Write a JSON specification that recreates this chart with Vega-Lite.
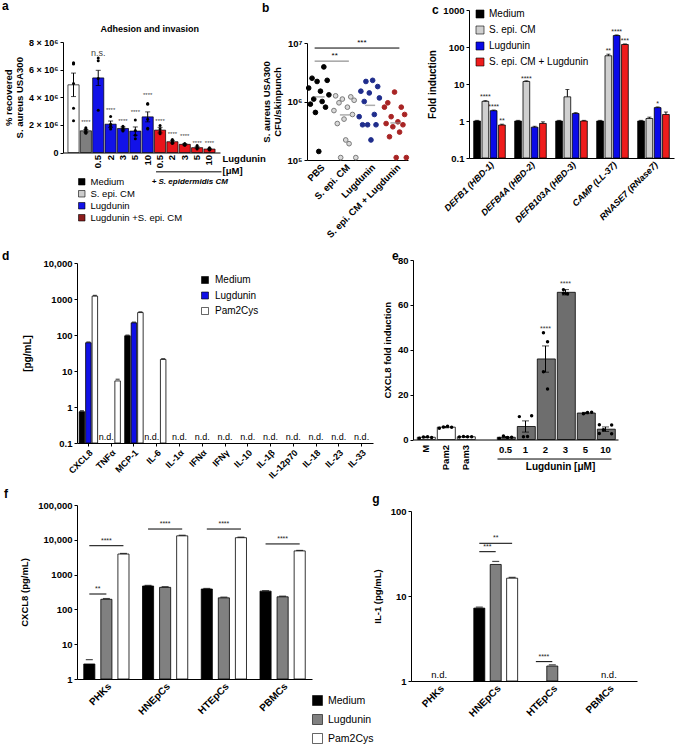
{
  "$schema": "https://vega.github.io/schema/vega-lite/v6.json",
  "width": 676,
  "height": 748,
  "autosize": {"type": "none"},
  "padding": 0,
  "background": "white",
  "config": {
    "view": {"stroke": null},
    "font": "Liberation Sans",
    "axis": {"labelFont": "Liberation Sans", "titleFont": "Liberation Sans", "labelFontWeight": "bold", "titleFontWeight": "bold", "labelColor": "#000", "titleColor": "#000", "labelFontSize": 9, "titleFontSize": 9.5, "domainColor": "#000", "tickColor": "#000", "grid": false, "tickSize": 3, "labelPadding": 2, "titlePadding": 5, "labelOverlap": false, "labelBound": false},
    "legend": {"labelFont": "Liberation Sans", "labelColor": "#000", "labelFontWeight": "normal", "symbolType": "square", "symbolStrokeColor": "#000", "symbolStrokeWidth": 0.6, "padding": 0},
    "text": {"font": "Liberation Sans"}
  },
  "resolve": {
    "scale": {"x": "independent", "y": "independent", "color": "independent", "fill": "independent", "stroke": "independent", "xOffset": "independent", "size": "independent"},
    "axis": {"x": "independent", "y": "independent"},
    "legend": {"color": "independent", "fill": "independent", "stroke": "independent"}
  },
  "datasets": {
    "aBars": [
      {"cat": "Medium", "grp": "Medium", "v": 4.9e6, "lo": 4.05e6, "hi": 5.75e6},
      {"cat": "S. epi. CM", "grp": "S. epi. CM", "v": 1.57e6, "lo": 1.47e6, "hi": 1.67e6},
      {"cat": "0.5", "grp": "Lugdunin", "v": 5.4e6, "lo": 4.85e6, "hi": 5.95e6},
      {"cat": "2", "grp": "Lugdunin", "v": 2.05e6, "lo": 1.82e6, "hi": 2.28e6},
      {"cat": "3", "grp": "Lugdunin", "v": 1.74e6, "lo": 1.64e6, "hi": 1.85e6},
      {"cat": "5", "grp": "Lugdunin", "v": 1.55e6, "lo": 1.25e6, "hi": 1.85e6},
      {"cat": "10", "grp": "Lugdunin", "v": 2.58e6, "lo": 2.22e6, "hi": 2.94e6},
      {"cat": "0.5 ", "grp": "Lugdunin +S. epi. CM", "v": 1.62e6, "lo": 1.42e6, "hi": 1.82e6},
      {"cat": "2 ", "grp": "Lugdunin +S. epi. CM", "v": 0.78e6, "lo": 0.68e6, "hi": 0.88e6},
      {"cat": "3 ", "grp": "Lugdunin +S. epi. CM", "v": 0.59e6, "lo": 0.54e6, "hi": 0.64e6},
      {"cat": "5 ", "grp": "Lugdunin +S. epi. CM", "v": 0.35e6, "lo": 0.28e6, "hi": 0.42e6},
      {"cat": "10 ", "grp": "Lugdunin +S. epi. CM", "v": 0.25e6, "lo": 0.2e6, "hi": 0.3e6}
    ],
    "aDots": [
      {"cat": "Medium", "v": 6.45e6}, {"cat": "Medium", "v": 6.5e6}, {"cat": "Medium", "v": 6.4e6}, {"cat": "Medium", "v": 5.0e6}, {"cat": "Medium", "v": 3.2e6}, {"cat": "Medium", "v": 2.3e6},
      {"cat": "S. epi. CM", "v": 1.8e6}, {"cat": "S. epi. CM", "v": 1.7e6}, {"cat": "S. epi. CM", "v": 1.65e6}, {"cat": "S. epi. CM", "v": 1.55e6}, {"cat": "S. epi. CM", "v": 1.5e6}, {"cat": "S. epi. CM", "v": 1.45e6}, {"cat": "S. epi. CM", "v": 1.4e6},
      {"cat": "0.5", "v": 6.65e6}, {"cat": "0.5", "v": 6.85e6}, {"cat": "0.5", "v": 5.35e6}, {"cat": "0.5", "v": 3.05e6},
      {"cat": "2", "v": 2.6e6}, {"cat": "2", "v": 2.05e6}, {"cat": "2", "v": 1.9e6}, {"cat": "2", "v": 1.7e6},
      {"cat": "3", "v": 1.9e6}, {"cat": "3", "v": 1.8e6}, {"cat": "3", "v": 1.7e6}, {"cat": "3", "v": 1.6e6}, {"cat": "3", "v": 1.55e6},
      {"cat": "5", "v": 2.35e6}, {"cat": "5", "v": 1.6e6}, {"cat": "5", "v": 1.25e6}, {"cat": "5", "v": 1.0e6},
      {"cat": "10", "v": 3.55e6}, {"cat": "10", "v": 3.5e6}, {"cat": "10", "v": 2.4e6}, {"cat": "10", "v": 1.7e6}, {"cat": "10", "v": 1.75e6},
      {"cat": "0.5 ", "v": 1.95e6}, {"cat": "0.5 ", "v": 1.7e6}, {"cat": "0.5 ", "v": 1.5e6}, {"cat": "0.5 ", "v": 1.35e6},
      {"cat": "2 ", "v": 0.95e6}, {"cat": "2 ", "v": 0.85e6}, {"cat": "2 ", "v": 0.75e6}, {"cat": "2 ", "v": 0.65e6}, {"cat": "2 ", "v": 0.7e6},
      {"cat": "3 ", "v": 0.65e6}, {"cat": "3 ", "v": 0.6e6}, {"cat": "3 ", "v": 0.55e6}, {"cat": "3 ", "v": 0.52e6},
      {"cat": "5 ", "v": 0.5e6}, {"cat": "5 ", "v": 0.38e6}, {"cat": "5 ", "v": 0.25e6},
      {"cat": "10 ", "v": 0.35e6}, {"cat": "10 ", "v": 0.25e6}, {"cat": "10 ", "v": 0.2e6}, {"cat": "10 ", "v": 0.18e6}
    ],
    "aSig": [
      {"cat": "S. epi. CM", "sig": "****", "v": 2.2e6},
      {"cat": "0.5", "sig": "n.s.", "v": 7.2e6},
      {"cat": "2", "sig": "****", "v": 3.1e6},
      {"cat": "3", "sig": "****", "v": 2.3e6},
      {"cat": "5", "sig": "****", "v": 2.95e6},
      {"cat": "10", "sig": "****", "v": 4.15e6},
      {"cat": "0.5 ", "sig": "****", "v": 2.27e6},
      {"cat": "2 ", "sig": "****", "v": 1.33e6},
      {"cat": "3 ", "sig": "****", "v": 1.19e6},
      {"cat": "5 ", "sig": "****", "v": 0.7e6},
      {"cat": "10 ", "sig": "****", "v": 0.7e6}
    ],
    "aNote": [{"cat": "3 ", "v": -2.27e6, "label": "+ S. epidermidis CM"}],
    "aLine": [{"cat": "0.5 ", "cat2": "10 ", "v": -1.4e6}],
    "aLbl": [{"cat": "Medium", "v": 10.35e6, "label": "a"}],
    "aTitle": [{"cat": "10", "v": 8.76e6, "label": "Adhesion and invasion"}],
    "bDots": [
      {"grp": "PBS", "rep": 10, "v": 3.9e6}, {"grp": "PBS", "rep": 3, "v": 2.5e6}, {"grp": "PBS", "rep": 12, "v": 2.3e6}, {"grp": "PBS", "rep": 6, "v": 2.2e6}, {"grp": "PBS", "rep": 1, "v": 1.7e6}, {"grp": "PBS", "rep": 8, "v": 1.5e6}, {"grp": "PBS", "rep": 13, "v": 1.3e6}, {"grp": "PBS", "rep": 4, "v": 1.1e6}, {"grp": "PBS", "rep": 9, "v": 1.0e6}, {"grp": "PBS", "rep": 2, "v": 0.9e6}, {"grp": "PBS", "rep": 11, "v": 0.8e6}, {"grp": "PBS", "rep": 5, "v": 0.65e6}, {"grp": "PBS", "rep": 7, "v": 1.4e5},
      {"grp": "S. epi. CM", "rep": 2, "v": 1.25e6}, {"grp": "S. epi. CM", "rep": 11, "v": 1.2e6}, {"grp": "S. epi. CM", "rep": 6, "v": 1.1e6}, {"grp": "S. epi. CM", "rep": 13, "v": 1.05e6}, {"grp": "S. epi. CM", "rep": 4, "v": 0.95e6}, {"grp": "S. epi. CM", "rep": 9, "v": 0.8e6}, {"grp": "S. epi. CM", "rep": 1, "v": 0.7e6}, {"grp": "S. epi. CM", "rep": 12, "v": 0.6e6}, {"grp": "S. epi. CM", "rep": 7, "v": 0.5e6}, {"grp": "S. epi. CM", "rep": 3, "v": 0.42e6}, {"grp": "S. epi. CM", "rep": 8, "v": 0.22e6}, {"grp": "S. epi. CM", "rep": 10, "v": 0.19e6}, {"grp": "S. epi. CM", "rep": 5, "v": 0.11e6}, {"grp": "S. epi. CM", "rep": 14, "v": 0.11e6},
      {"grp": "Lugdunin", "rep": 9, "v": 2.3e6}, {"grp": "Lugdunin", "rep": 5, "v": 2.2e6}, {"grp": "Lugdunin", "rep": 12, "v": 1.8e6}, {"grp": "Lugdunin", "rep": 2, "v": 1.5e6}, {"grp": "Lugdunin", "rep": 7, "v": 1.4e6}, {"grp": "Lugdunin", "rep": 13, "v": 1.15e6}, {"grp": "Lugdunin", "rep": 4, "v": 1.0e6}, {"grp": "Lugdunin", "rep": 10, "v": 0.6e6}, {"grp": "Lugdunin", "rep": 1, "v": 0.55e6}, {"grp": "Lugdunin", "rep": 6, "v": 0.4e6}, {"grp": "Lugdunin", "rep": 11, "v": 0.4e6}, {"grp": "Lugdunin", "rep": 3, "v": 0.4e6}, {"grp": "Lugdunin", "rep": 8, "v": 0.22e6},
      {"grp": "S. epi. CM + Lugdunin", "rep": 7, "v": 1.45e6}, {"grp": "S. epi. CM + Lugdunin", "rep": 3, "v": 0.95e6}, {"grp": "S. epi. CM + Lugdunin", "rep": 11, "v": 0.8e6}, {"grp": "S. epi. CM + Lugdunin", "rep": 1, "v": 0.8e6}, {"grp": "S. epi. CM + Lugdunin", "rep": 13, "v": 0.6e6}, {"grp": "S. epi. CM + Lugdunin", "rep": 5, "v": 0.55e6}, {"grp": "S. epi. CM + Lugdunin", "rep": 9, "v": 0.45e6}, {"grp": "S. epi. CM + Lugdunin", "rep": 2, "v": 0.42e6}, {"grp": "S. epi. CM + Lugdunin", "rep": 12, "v": 0.4e6}, {"grp": "S. epi. CM + Lugdunin", "rep": 6, "v": 0.37e6}, {"grp": "S. epi. CM + Lugdunin", "rep": 10, "v": 0.3e6}, {"grp": "S. epi. CM + Lugdunin", "rep": 4, "v": 0.25e6}, {"grp": "S. epi. CM + Lugdunin", "rep": 8, "v": 0.11e6}, {"grp": "S. epi. CM + Lugdunin", "rep": 14, "v": 0.11e6}
    ],
    "bMean": [
      {"grp": "PBS", "v": 1.2e6}, {"grp": "S. epi. CM", "v": 5.9e5}, {"grp": "Lugdunin", "v": 8.6e5}, {"grp": "S. epi. CM + Lugdunin", "v": 4.3e5}
    ],
    "bSig": [
      {"from": "PBS", "to": "S. epi. CM", "v": 4.9e6, "sig": "**"},
      {"from": "PBS", "to": "S. epi. CM + Lugdunin", "v": 8.2e6, "sig": "***"}
    ],
    "bLbl": [{"grp": "PBS", "v": 3.39e7, "label": "b"}],
    "cBars": [
      {"gene": "DEFB1 (HBD-1)", "treat": "Medium", "v": 1, "hi": 1.04},
      {"gene": "DEFB1 (HBD-1)", "treat": "S. epi. CM", "v": 3.4, "hi": 3.55},
      {"gene": "DEFB1 (HBD-1)", "treat": "Lugdunin", "v": 1.9, "hi": 1.98},
      {"gene": "DEFB1 (HBD-1)", "treat": "S. epi. CM + Lugdunin", "v": 0.78, "hi": 0.82},
      {"gene": "DEFB4A (HBD-2)", "treat": "Medium", "v": 1, "hi": 1.04},
      {"gene": "DEFB4A (HBD-2)", "treat": "S. epi. CM", "v": 11.7, "hi": 12.2},
      {"gene": "DEFB4A (HBD-2)", "treat": "Lugdunin", "v": 0.68, "hi": 0.72},
      {"gene": "DEFB4A (HBD-2)", "treat": "S. epi. CM + Lugdunin", "v": 0.86, "hi": 0.95},
      {"gene": "DEFB103A (HBD-3)", "treat": "Medium", "v": 1, "hi": 1.04},
      {"gene": "DEFB103A (HBD-3)", "treat": "S. epi. CM", "v": 4.5, "hi": 7.1},
      {"gene": "DEFB103A (HBD-3)", "treat": "Lugdunin", "v": 1.6, "hi": 1.68},
      {"gene": "DEFB103A (HBD-3)", "treat": "S. epi. CM + Lugdunin", "v": 1.0, "hi": 1.04},
      {"gene": "CAMP (LL-37)", "treat": "Medium", "v": 1, "hi": 1.04},
      {"gene": "CAMP (LL-37)", "treat": "S. epi. CM", "v": 58, "hi": 64},
      {"gene": "CAMP (LL-37)", "treat": "Lugdunin", "v": 204, "hi": 212},
      {"gene": "CAMP (LL-37)", "treat": "S. epi. CM + Lugdunin", "v": 117, "hi": 121},
      {"gene": "RNASE7 (RNase7)", "treat": "Medium", "v": 1, "hi": 1.04},
      {"gene": "RNASE7 (RNase7)", "treat": "S. epi. CM", "v": 1.17, "hi": 1.27},
      {"gene": "RNASE7 (RNase7)", "treat": "Lugdunin", "v": 2.3, "hi": 2.4},
      {"gene": "RNASE7 (RNase7)", "treat": "S. epi. CM + Lugdunin", "v": 1.5, "hi": 1.75}
    ],
    "cSig": [
      {"gene": "DEFB1 (HBD-1)", "treat": "S. epi. CM", "sig": "****", "v": 4.5},
      {"gene": "DEFB1 (HBD-1)", "treat": "Lugdunin", "sig": "****", "v": 2.45},
      {"gene": "DEFB1 (HBD-1)", "treat": "S. epi. CM + Lugdunin", "sig": "**", "v": 1.0},
      {"gene": "DEFB4A (HBD-2)", "treat": "S. epi. CM", "sig": "****", "v": 13.8},
      {"gene": "CAMP (LL-37)", "treat": "S. epi. CM", "sig": "**", "v": 78},
      {"gene": "CAMP (LL-37)", "treat": "Lugdunin", "sig": "****", "v": 250},
      {"gene": "CAMP (LL-37)", "treat": "S. epi. CM + Lugdunin", "sig": "***", "v": 144},
      {"gene": "RNASE7 (RNase7)", "treat": "Lugdunin", "sig": "*", "v": 2.8}
    ],
    "cLbl": [{"gene": "DEFB1 (HBD-1)", "v": 803, "label": "c"}],
    "dBars": [
      {"cyt": "CXCL8", "treat": "Medium", "v": 0.74, "hi": 0.79},
      {"cyt": "CXCL8", "treat": "Lugdunin", "v": 61, "hi": 64},
      {"cyt": "CXCL8", "treat": "Pam2Cys", "v": 1200, "hi": 1260},
      {"cyt": "TNFα", "treat": "Pam2Cys", "v": 5.3, "hi": 5.9},
      {"cyt": "MCP-1", "treat": "Medium", "v": 95, "hi": 99},
      {"cyt": "MCP-1", "treat": "Lugdunin", "v": 218, "hi": 228},
      {"cyt": "MCP-1", "treat": "Pam2Cys", "v": 420, "hi": 440},
      {"cyt": "IL-6", "treat": "Pam2Cys", "v": 21, "hi": 22}
    ],
    "dND": [
      {"cyt": "TNFα", "v": 0.1, "note": "n.d."}, {"cyt": "IL-6", "v": 0.1, "note": "n.d."},
      {"cyt": "IL-1α", "v": 0.1, "note": "n.d."}, {"cyt": "IFNα", "v": 0.1, "note": "n.d."}, {"cyt": "IFNγ", "v": 0.1, "note": "n.d."}, {"cyt": "IL-10", "v": 0.1, "note": "n.d."}, {"cyt": "IL-1β", "v": 0.1, "note": "n.d."}, {"cyt": "IL-12p70", "v": 0.1, "note": "n.d."}, {"cyt": "IL-18", "v": 0.1, "note": "n.d."}, {"cyt": "IL-23", "v": 0.1, "note": "n.d."}, {"cyt": "IL-33", "v": 0.1, "note": "n.d."}
    ],
    "dLbl": [{"cyt": "CXCL8", "v": 12100, "label": "d"}],
    "eBars": [
      {"cond": "M", "v": 1.0, "lo": 0.8, "hi": 1.2},
      {"cond": "Pam2", "v": 5.5, "lo": 5.2, "hi": 5.8},
      {"cond": "Pam3", "v": 1.2, "lo": 1.1, "hi": 1.3},
      {"cond": "0.5", "v": 1.0, "lo": 0.7, "hi": 1.3},
      {"cond": "1", "v": 5.8, "lo": 3.3, "hi": 8.3},
      {"cond": "2", "v": 35.9, "lo": 30.0, "hi": 41.7},
      {"cond": "3", "v": 65.6, "lo": 64.4, "hi": 66.8},
      {"cond": "5", "v": 11.8, "lo": 11.5, "hi": 12.1},
      {"cond": "10", "v": 4.6, "lo": 3.6, "hi": 5.6}
    ],
    "eDots": [
      {"cond": "M", "rep": 1, "v": 0.6}, {"cond": "M", "rep": 2, "v": 1.1}, {"cond": "M", "rep": 3, "v": 1.2}, {"cond": "M", "rep": 4, "v": 0.9},
      {"cond": "Pam2", "rep": 1, "v": 5.0}, {"cond": "Pam2", "rep": 2, "v": 5.6}, {"cond": "Pam2", "rep": 3, "v": 5.9}, {"cond": "Pam2", "rep": 4, "v": 5.5},
      {"cond": "Pam3", "rep": 1, "v": 1.1}, {"cond": "Pam3", "rep": 2, "v": 1.3}, {"cond": "Pam3", "rep": 3, "v": 1.2}, {"cond": "Pam3", "rep": 4, "v": 1.2},
      {"cond": "0.5", "rep": 1, "v": 0.5}, {"cond": "0.5", "rep": 2, "v": 1.6}, {"cond": "0.5", "rep": 3, "v": 0.9}, {"cond": "0.5", "rep": 4, "v": 1.0},
      {"cond": "1", "rep": 1, "v": 10.2}, {"cond": "1", "rep": 4, "v": 10.6}, {"cond": "1", "rep": 2, "v": 1.2}, {"cond": "1", "rep": 3, "v": 1.3},
      {"cond": "2", "rep": 2, "v": 47.6}, {"cond": "2", "rep": 3, "v": 43.6}, {"cond": "2", "rep": 2, "v": 30.2}, {"cond": "2", "rep": 3, "v": 22.5},
      {"cond": "3", "rep": 2, "v": 66.8}, {"cond": "3", "rep": 3, "v": 65.0}, {"cond": "3", "rep": 2, "v": 65.2},
      {"cond": "5", "rep": 2, "v": 11.5}, {"cond": "5", "rep": 3, "v": 12.0}, {"cond": "5", "rep": 4, "v": 12.1},
      {"cond": "10", "rep": 1, "v": 6.6}, {"cond": "10", "rep": 4, "v": 6.5}, {"cond": "10", "rep": 1, "v": 2.7}, {"cond": "10", "rep": 4, "v": 2.6}, {"cond": "10", "rep": 2, "v": 4.3}
    ],
    "eSig": [{"cond": "2", "v": 49.1, "sig": "****"}, {"cond": "3", "v": 69.2, "sig": "****"}],
    "eNote": [{"cond": "3", "v": -13.6, "label": "Lugdunin [μM]"}],
    "eLine": [{"cond": "0.5", "cond2": "10", "v": -8.7}],
    "eLab": [{"cond": "M", "v": -2.4}, {"cond": "Pam2", "v": -2.4}, {"cond": "Pam3", "v": -2.4}],
    "eLbl": [{"cond": "M", "v": 80, "label": "e"}],
    "fBars": [
      {"cell": "PHKs", "treat": "Medium", "v": 2.7, "hi": 3.6},
      {"cell": "PHKs", "treat": "Lugdunin", "v": 195, "hi": 205},
      {"cell": "PHKs", "treat": "Pam2Cys", "v": 3900, "hi": 4050},
      {"cell": "HNEpCs", "treat": "Medium", "v": 470, "hi": 490},
      {"cell": "HNEpCs", "treat": "Lugdunin", "v": 430, "hi": 450},
      {"cell": "HNEpCs", "treat": "Pam2Cys", "v": 13000, "hi": 13500},
      {"cell": "HTEpCs", "treat": "Medium", "v": 385, "hi": 400},
      {"cell": "HTEpCs", "treat": "Lugdunin", "v": 215, "hi": 225},
      {"cell": "HTEpCs", "treat": "Pam2Cys", "v": 11500, "hi": 11900},
      {"cell": "PBMCs", "treat": "Medium", "v": 335, "hi": 345},
      {"cell": "PBMCs", "treat": "Lugdunin", "v": 230, "hi": 240},
      {"cell": "PBMCs", "treat": "Pam2Cys", "v": 4800, "hi": 4950}
    ],
    "fLines": [
      {"id": "p1", "cell": "PHKs", "treat": "Medium", "v": 6760}, {"id": "p1", "cell": "PHKs", "treat": "Pam2Cys", "v": 6760},
      {"id": "p2", "cell": "PHKs", "treat": "Medium", "v": 277}, {"id": "p2", "cell": "PHKs", "treat": "Lugdunin", "v": 277},
      {"id": "p3", "cell": "HNEpCs", "treat": "Medium", "v": 20400}, {"id": "p3", "cell": "HNEpCs", "treat": "Pam2Cys", "v": 20400},
      {"id": "p4", "cell": "HTEpCs", "treat": "Medium", "v": 20400}, {"id": "p4", "cell": "HTEpCs", "treat": "Pam2Cys", "v": 20400},
      {"id": "p5", "cell": "PBMCs", "treat": "Medium", "v": 7600}, {"id": "p5", "cell": "PBMCs", "treat": "Pam2Cys", "v": 7600}
    ],
    "fSig": [
      {"cell": "PHKs", "treat": "Lugdunin", "v": 6760, "sig": "****"},
      {"cell": "PHKs", "treat": "Medium", "v": 277, "sig": "**"},
      {"cell": "HNEpCs", "treat": "Lugdunin", "v": 20400, "sig": "****"},
      {"cell": "HTEpCs", "treat": "Lugdunin", "v": 20400, "sig": "****"},
      {"cell": "PBMCs", "treat": "Lugdunin", "v": 7600, "sig": "****"}
    ],
    "fLbl": [{"cell": "PHKs", "v": 1.59e5, "label": "f"}],
    "gBars": [
      {"cell": "HNEpCs", "treat": "Medium", "v": 7.2, "hi": 7.4},
      {"cell": "HNEpCs", "treat": "Lugdunin", "v": 23.5, "hi": 25.5},
      {"cell": "HNEpCs", "treat": "Pam2Cys", "v": 16.2, "hi": 16.6},
      {"cell": "HTEpCs", "treat": "Lugdunin", "v": 1.5, "hi": 1.55}
    ],
    "gLines": [
      {"id": "q1", "cell": "HNEpCs", "treat": "Medium", "v": 41.7}, {"id": "q1", "cell": "HNEpCs", "treat": "Pam2Cys", "v": 41.7},
      {"id": "q2", "cell": "HNEpCs", "treat": "Medium", "v": 33.2}, {"id": "q2", "cell": "HNEpCs", "treat": "Lugdunin", "v": 33.2},
      {"id": "q3", "cell": "HTEpCs", "treat": "Medium", "v": 1.69}, {"id": "q3", "cell": "HTEpCs", "treat": "Lugdunin", "v": 1.69}
    ],
    "gSig": [
      {"cell": "HNEpCs", "treat": "Lugdunin", "v": 41.7, "sig": "**"},
      {"cell": "HNEpCs", "treat": "Medium", "v": 33.2, "sig": "***"},
      {"cell": "HTEpCs", "treat": "Medium", "v": 1.69, "sig": "****"}
    ],
    "gND": [{"cell": "PHKs", "v": 1, "note": "n.d."}, {"cell": "PBMCs", "v": 1, "note": "n.d."}],
    "gLbl": [{"cell": "PHKs", "v": 124, "label": "g"}]
  },
  "layer": [
    {
      "layer": [
        {
          "data": {"name": "aBars"},
          "mark": {"type": "bar", "stroke": "#000", "strokeWidth": 0.7},
          "encoding": {
            "x": {"field": "cat", "type": "nominal", "scale": {"domain": ["Medium", "S. epi. CM", "0.5", "2", "3", "5", "10", "0.5 ", "2 ", "3 ", "5 ", "10 "], "range": [63, 220], "paddingInner": 0.1, "paddingOuter": 0.4},
              "axis": {"orient": "bottom", "offset": -595.5, "labelAngle": -90, "ticks": false, "labelFontSize": 9.5, "labelExpr": "datum.value == 'Medium' || datum.value == 'S. epi. CM' ? '' : trim(datum.value)", "title": ["Lugdunin", "[μM]"], "titleX": 222, "titleY": 1, "titleAlign": "left", "titleBaseline": "top", "titleAngle": 0, "titleFontSize": 9.5, "titleLineHeight": 12}},
            "y": {"field": "v", "type": "quantitative", "scale": {"domain": [0, 8e6], "range": [152.5, 42], "nice": false}, "axis": {"orient": "left", "offset": -63, "values": [0, 2e6, 4e6, 6e6, 8e6], "labelExpr": "datum.value == 0 ? '0' : format(datum.value / 1e6, 'd') + ' × 10⁶'", "title": ["% recovered", "S. aureus USA300"], "titleFontSize": 9.5, "titleLineHeight": 11, "titlePadding": 4}},
            "color": {"field": "grp", "type": "nominal",
              "condition": [{"test": "datum.grp === 'Medium'", "value": "#ffffff"}, {"test": "datum.grp === 'S. epi. CM'", "value": "#7e7e7e"}, {"test": "datum.grp === 'Lugdunin +S. epi. CM'", "value": "#e8141b"}],
              "scale": {"domain": ["Medium", "S. epi. CM", "Lugdunin", "Lugdunin +S. epi. CM"], "range": ["#000000", "#cccccc", "#1212e8", "#8b1c1c"]},
              "legend": {"title": null, "orient": "none", "legendX": 77, "legendY": 177, "symbolSize": 42, "labelFontSize": 9.5, "rowPadding": 1, "labelOffset": 4}}
          }
        },
        {
          "data": {"name": "aBars"},
          "mark": {"type": "rule", "color": "#000", "strokeWidth": 1},
          "encoding": {"x": {"field": "cat", "type": "nominal"}, "y": {"field": "lo", "type": "quantitative"}, "y2": {"field": "hi"}}
        },
        {
          "data": {"name": "aBars"},
          "mark": {"type": "tick", "color": "#000", "thickness": 1, "size": 5},
          "encoding": {"x": {"field": "cat", "type": "nominal"}, "y": {"field": "hi", "type": "quantitative"}}
        },
        {
          "data": {"name": "aBars"},
          "mark": {"type": "tick", "color": "#000", "thickness": 1, "size": 5},
          "encoding": {"x": {"field": "cat", "type": "nominal"}, "y": {"field": "lo", "type": "quantitative"}}
        },
        {
          "data": {"name": "aDots"},
          "mark": {"type": "circle", "color": "#000", "size": 9, "opacity": 1},
          "encoding": {"x": {"field": "cat", "type": "nominal"}, "y": {"field": "v", "type": "quantitative"}}
        },
        {
          "data": {"name": "aSig"},
          "mark": {"type": "text", "color": "#444", "baseline": "middle"},
          "encoding": {"x": {"field": "cat", "type": "nominal"}, "y": {"field": "v", "type": "quantitative"}, "text": {"field": "sig"},
            "size": {"condition": {"test": "datum.sig == 'n.s.'", "value": 9}, "value": 6}}
        },
        {
          "data": {"name": "aNote"},
          "mark": {"type": "text", "fontWeight": "bold", "fontStyle": "italic", "fontSize": 8, "dx": 5, "baseline": "alphabetic", "color": "#000"},
          "encoding": {"x": {"field": "cat", "type": "nominal"}, "y": {"field": "v", "type": "quantitative"}, "text": {"field": "label"}}
        },
        {
          "data": {"name": "aLine"},
          "mark": {"type": "rule", "color": "#000", "strokeWidth": 1, "xOffset": -4, "x2Offset": 12},
          "encoding": {"x": {"field": "cat", "type": "nominal"}, "x2": {"field": "cat2"}, "y": {"field": "v", "type": "quantitative"}}
        },
        {
          "data": {"name": "aLbl"},
          "mark": {"type": "text", "fontWeight": "bold", "fontSize": 12, "dx": -71.5, "align": "left", "baseline": "alphabetic", "color": "#000"},
          "encoding": {"x": {"field": "cat", "type": "nominal"}, "y": {"field": "v", "type": "quantitative"}, "text": {"field": "label"}}
        },
        {
          "data": {"name": "aTitle"},
          "mark": {"type": "text", "fontWeight": "bold", "fontSize": 9, "dx": 2, "align": "center", "baseline": "alphabetic", "color": "#000"},
          "encoding": {"x": {"field": "cat", "type": "nominal"}, "y": {"field": "v", "type": "quantitative"}, "text": {"field": "label"}}
        }
      ]
    },
    {
      "layer": [
        {
          "data": {"name": "bDots"},
          "mark": {"type": "point", "filled": true, "size": 22, "strokeWidth": 1, "opacity": 1},
          "encoding": {
            "x": {"field": "grp", "type": "nominal", "scale": {"type": "band", "domain": ["PBS", "S. epi. CM", "Lugdunin", "S. epi. CM + Lugdunin"], "range": [307, 408], "paddingInner": 0, "paddingOuter": 0}, "axis": {"orient": "bottom", "offset": -588, "labelAngle": -45, "ticks": false, "title": null, "labelFontSize": 9.5}},
            "xOffset": {"field": "rep", "type": "ordinal", "scale": {"paddingInner": 0, "paddingOuter": 1.5}},
            "y": {"field": "v", "type": "quantitative", "scale": {"type": "log", "domain": [1e5, 1e7], "range": [160, 43], "nice": false}, "axis": {"orient": "left", "offset": -307, "values": [1e5, 1e6, 1e7], "labelExpr": "datum.value > 5e6 ? '10⁷' : datum.value > 5e5 ? '10⁶' : '10⁵'", "title": ["S. aureus USA300", "CFU/skinpunch"], "titleFontSize": 9.5, "titleLineHeight": 11, "labelFontSize": 9.5, "titlePadding": 4}},
            "fill": {"field": "grp", "type": "nominal", "scale": {"domain": ["PBS", "S. epi. CM", "Lugdunin", "S. epi. CM + Lugdunin"], "range": ["#000000", "#d9d9d9", "#1f2d8c", "#a82424"]}, "legend": null},
            "stroke": {"field": "grp", "type": "nominal", "scale": {"domain": ["PBS", "S. epi. CM", "Lugdunin", "S. epi. CM + Lugdunin"], "range": ["#000000", "#7a7a7a", "#1f2d8c", "#a82424"]}, "legend": null}
          }
        },
        {
          "data": {"name": "bMean"},
          "mark": {"type": "tick", "color": "#8a8a8a", "thickness": 1.5, "size": 10},
          "encoding": {"x": {"field": "grp", "type": "nominal"}, "y": {"field": "v", "type": "quantitative"}}
        },
        {
          "data": {"name": "bSig"},
          "mark": {"type": "rule", "strokeWidth": 1, "xOffset": -5, "x2Offset": 4},
          "encoding": {"x": {"field": "from", "type": "nominal"}, "x2": {"field": "to"}, "y": {"field": "v", "type": "quantitative"},
            "color": {"condition": {"test": "datum.sig == '**'", "value": "#777777"}, "value": "#000000"}}
        },
        {
          "data": {"name": "bSig"},
          "transform": [{"filter": "datum.sig == '**'"}],
          "mark": {"type": "text", "fontSize": 8, "dx": 15, "dy": -1, "baseline": "bottom", "color": "#000"},
          "encoding": {"x": {"field": "from", "type": "nominal"}, "y": {"field": "v", "type": "quantitative"}, "text": {"field": "sig"}}
        },
        {
          "data": {"name": "bSig"},
          "transform": [{"filter": "datum.sig == '***'"}],
          "mark": {"type": "text", "fontSize": 8, "dx": 17, "dy": -1, "baseline": "bottom", "color": "#000"},
          "encoding": {"x": {"datum": "S. epi. CM", "type": "nominal"}, "y": {"field": "v", "type": "quantitative"}, "text": {"field": "sig"}}
        },
        {
          "data": {"name": "bLbl"},
          "mark": {"type": "text", "fontWeight": "bold", "fontSize": 12, "dx": -57.6, "align": "left", "baseline": "alphabetic", "color": "#000"},
          "encoding": {"x": {"field": "grp", "type": "nominal"}, "y": {"field": "v", "type": "quantitative"}, "text": {"field": "label"}}
        }
      ]
    },
    {
      "layer": [
        {
          "data": {"name": "cBars"},
          "mark": {"type": "bar", "stroke": "#000", "strokeWidth": 0.8},
          "encoding": {
            "x": {"field": "gene", "type": "nominal", "scale": {"domain": ["DEFB1 (HBD-1)", "DEFB4A (HBD-2)", "DEFB103A (HBD-3)", "CAMP (LL-37)", "RNASE7 (RNase7)"], "range": [469, 674], "paddingInner": 0.23, "paddingOuter": 0.115}, "axis": {"orient": "bottom", "offset": -590, "labelAngle": -45, "ticks": false, "title": null, "labelFontStyle": "italic", "labelFontSize": 9}},
            "xOffset": {"field": "treat", "type": "nominal", "scale": {"domain": ["Medium", "S. epi. CM", "Lugdunin", "S. epi. CM + Lugdunin"], "paddingInner": 0.19, "paddingOuter": 0}},
            "y": {"field": "v", "type": "quantitative", "scale": {"type": "log", "domain": [0.1, 1000], "range": [158, 10], "nice": false}, "axis": {"orient": "left", "offset": -469, "values": [0.1, 1, 10, 100, 1000], "labelExpr": "datum.value < 1 ? '0.1' : format(datum.value, 'd')", "title": "Fold induction", "titleFontSize": 10, "labelFontSize": 9.5}},
            "y2": {"datum": 0.1},
            "color": {"field": "treat", "type": "nominal", "scale": {"domain": ["Medium", "S. epi. CM", "Lugdunin", "S. epi. CM + Lugdunin"], "range": ["#000000", "#d0d0d0", "#0a0ae8", "#ee1c1c"]},
              "legend": {"title": null, "orient": "none", "legendX": 475, "legendY": 9, "symbolSize": 64, "labelFontSize": 10, "rowPadding": 4, "labelOffset": 4}}
          }
        },
        {
          "data": {"name": "cBars"},
          "mark": {"type": "tick", "color": "#000", "thickness": 1, "size": 4},
          "encoding": {"x": {"field": "gene", "type": "nominal"}, "xOffset": {"field": "treat", "type": "nominal"}, "y": {"field": "hi", "type": "quantitative"}}
        },
        {
          "data": {"name": "cBars"},
          "mark": {"type": "rule", "color": "#000", "strokeWidth": 1},
          "encoding": {"x": {"field": "gene", "type": "nominal"}, "xOffset": {"field": "treat", "type": "nominal"}, "y": {"field": "v", "type": "quantitative"}, "y2": {"field": "hi"}}
        },
        {
          "data": {"name": "cSig"},
          "mark": {"type": "text", "fontSize": 7, "color": "#222", "baseline": "middle"},
          "encoding": {"x": {"field": "gene", "type": "nominal"}, "xOffset": {"field": "treat", "type": "nominal"}, "y": {"field": "v", "type": "quantitative"}, "text": {"field": "sig"}}
        },
        {
          "data": {"name": "cLbl"},
          "mark": {"type": "text", "fontWeight": "bold", "fontSize": 12, "dx": -57.5, "align": "left", "baseline": "alphabetic", "color": "#000"},
          "encoding": {"x": {"field": "gene", "type": "nominal"}, "y": {"field": "v", "type": "quantitative"}, "text": {"field": "label"}}
        }
      ]
    },
    {
      "layer": [
        {
          "data": {"name": "dBars"},
          "mark": {"type": "bar", "stroke": "#000", "strokeWidth": 0.8},
          "encoding": {
            "x": {"field": "cyt", "type": "nominal", "scale": {"domain": ["CXCL8", "TNFα", "MCP-1", "IL-6", "IL-1α", "IFNα", "IFNγ", "IL-10", "IL-1β", "IL-12p70", "IL-18", "IL-23", "IL-33"], "range": [77, 373], "paddingInner": 0.19, "paddingOuter": 0.095}, "axis": {"orient": "bottom", "offset": -305, "labelAngle": -45, "ticks": true, "title": null, "labelFontSize": 9}},
            "xOffset": {"field": "treat", "type": "nominal", "scale": {"domain": ["Medium", "Lugdunin", "Pam2Cys"], "paddingInner": 0.15, "paddingOuter": 0}},
            "y": {"field": "v", "type": "quantitative", "scale": {"type": "log", "domain": [0.1, 10000], "range": [443, 263], "nice": false}, "axis": {"orient": "left", "offset": -77, "values": [0.1, 1, 10, 100, 1000, 10000], "labelExpr": "datum.value >= 10000 ? '10,000' : datum.value < 1 ? '0.1' : format(datum.value, 'd')", "title": "[pg/mL]", "titleFontSize": 10, "labelFontSize": 9.5, "titlePadding": 10}},
            "y2": {"datum": 0.1},
            "color": {"field": "treat", "type": "nominal", "scale": {"domain": ["Medium", "Lugdunin", "Pam2Cys"], "range": ["#000000", "#1010e6", "#ffffff"]},
              "legend": {"title": null, "orient": "none", "legendX": 200, "legendY": 275, "symbolSize": 49, "labelFontSize": 10, "rowPadding": 5.5, "labelOffset": 5}}
          }
        },
        {
          "data": {"name": "dBars"},
          "mark": {"type": "tick", "color": "#000", "thickness": 1.2, "size": 4},
          "encoding": {"x": {"field": "cyt", "type": "nominal"}, "xOffset": {"field": "treat", "type": "nominal"}, "y": {"field": "hi", "type": "quantitative"}}
        },
        {
          "data": {"name": "dND"},
          "transform": [{"filter": "datum.cyt == 'TNFα' || datum.cyt == 'IL-6'"}],
          "mark": {"type": "text", "fontSize": 9, "baseline": "bottom", "dy": -1, "dx": -5, "color": "#000"},
          "encoding": {"x": {"field": "cyt", "type": "nominal"}, "y": {"field": "v", "type": "quantitative"}, "text": {"field": "note"}}
        },
        {
          "data": {"name": "dND"},
          "transform": [{"filter": "datum.cyt != 'TNFα' && datum.cyt != 'IL-6'"}],
          "mark": {"type": "text", "fontSize": 9, "baseline": "bottom", "dy": -1, "color": "#000"},
          "encoding": {"x": {"field": "cyt", "type": "nominal"}, "y": {"field": "v", "type": "quantitative"}, "text": {"field": "note"}}
        },
        {
          "data": {"name": "dLbl"},
          "mark": {"type": "text", "fontWeight": "bold", "fontSize": 12, "dx": -86.4, "align": "left", "baseline": "alphabetic", "color": "#000"},
          "encoding": {"x": {"field": "cyt", "type": "nominal"}, "y": {"field": "v", "type": "quantitative"}, "text": {"field": "label"}}
        }
      ]
    },
    {
      "layer": [
        {
          "data": {"name": "eBars"},
          "mark": {"type": "bar", "stroke": "#000", "strokeWidth": 0.8},
          "encoding": {
            "x": {"field": "cond", "type": "nominal", "scale": {"domain": ["M", "Pam2", "Pam3", "gap", "0.5", "1", "2", "3", "5", "10"], "range": [413, 618], "paddingInner": 0.18, "paddingOuter": 0.215},
              "axis": {"orient": "bottom", "offset": -308.5, "ticks": false, "title": null, "labelAngle": 0, "labelPadding": 5, "labelFontSize": 9.5, "labelExpr": "indexof(['M','Pam2','Pam3','gap'], datum.value) >= 0 ? '' : datum.value"}},
            "y": {"field": "v", "type": "quantitative", "scale": {"domain": [0, 80], "range": [439.5, 260], "nice": false}, "axis": {"orient": "left", "offset": -413, "values": [0, 20, 40, 60, 80], "title": "CXCL8 fold induction", "titleFontSize": 9.5, "labelFontSize": 9.5}},
            "color": {"condition": {"test": "indexof(['M','Pam2','Pam3'], datum.cond) >= 0", "value": "#ffffff"}, "value": "#6e6e6e"}
          }
        },
        {
          "data": {"name": "eBars"},
          "mark": {"type": "rule", "color": "#000", "strokeWidth": 1},
          "encoding": {"x": {"field": "cond", "type": "nominal"}, "y": {"field": "lo", "type": "quantitative"}, "y2": {"field": "hi"}}
        },
        {
          "data": {"name": "eBars"},
          "mark": {"type": "tick", "color": "#000", "thickness": 1, "size": 7},
          "encoding": {"x": {"field": "cond", "type": "nominal"}, "y": {"field": "hi", "type": "quantitative"}}
        },
        {
          "data": {"name": "eBars"},
          "mark": {"type": "tick", "color": "#000", "thickness": 1, "size": 7},
          "encoding": {"x": {"field": "cond", "type": "nominal"}, "y": {"field": "lo", "type": "quantitative"}}
        },
        {
          "data": {"name": "eDots"},
          "mark": {"type": "circle", "color": "#000", "size": 12, "opacity": 1},
          "encoding": {"x": {"field": "cond", "type": "nominal"}, "xOffset": {"field": "rep", "type": "ordinal", "scale": {"paddingInner": 0, "paddingOuter": 0.5}}, "y": {"field": "v", "type": "quantitative"}}
        },
        {
          "data": {"name": "eSig"},
          "mark": {"type": "text", "fontSize": 7, "color": "#333", "baseline": "middle"},
          "encoding": {"x": {"field": "cond", "type": "nominal"}, "y": {"field": "v", "type": "quantitative"}, "text": {"field": "sig"}}
        },
        {
          "data": {"name": "eLab"},
          "mark": {"type": "text", "fontSize": 9.5, "fontWeight": "bold", "angle": 270, "align": "right", "baseline": "middle", "color": "#000"},
          "encoding": {"x": {"field": "cond", "type": "nominal"}, "y": {"field": "v", "type": "quantitative"}, "text": {"field": "cond"}}
        },
        {
          "data": {"name": "eNote"},
          "mark": {"type": "text", "fontSize": 10, "fontWeight": "bold", "dx": -5, "baseline": "alphabetic", "color": "#000"},
          "encoding": {"x": {"field": "cond", "type": "nominal"}, "y": {"field": "v", "type": "quantitative"}, "text": {"field": "label"}}
        },
        {
          "data": {"name": "eLine"},
          "mark": {"type": "rule", "color": "#000", "strokeWidth": 1, "xOffset": -8, "x2Offset": 6},
          "encoding": {"x": {"field": "cond", "type": "nominal"}, "x2": {"field": "cond2"}, "y": {"field": "v", "type": "quantitative"}}
        },
        {
          "data": {"name": "eLbl"},
          "mark": {"type": "text", "fontWeight": "bold", "fontSize": 12, "dx": -33.5, "align": "left", "baseline": "alphabetic", "color": "#000"},
          "encoding": {"x": {"field": "cond", "type": "nominal"}, "y": {"field": "v", "type": "quantitative"}, "text": {"field": "label"}}
        }
      ]
    },
    {
      "layer": [
        {
          "data": {"name": "fBars"},
          "mark": {"type": "bar", "stroke": "#000", "strokeWidth": 0.8},
          "encoding": {
            "x": {"field": "cell", "type": "nominal", "scale": {"domain": ["PHKs", "HNEpCs", "HTEpCs", "PBMCs"], "range": [77, 312], "paddingInner": 0.23, "paddingOuter": 0.115}, "axis": {"orient": "bottom", "offset": -69, "labelAngle": -45, "ticks": false, "title": null, "labelFontSize": 10}},
            "xOffset": {"field": "treat", "type": "nominal", "scale": {"domain": ["Medium", "Lugdunin", "Pam2Cys"], "paddingInner": 0.35, "paddingOuter": 0}},
            "y": {"field": "v", "type": "quantitative", "scale": {"type": "log", "domain": [1, 100000], "range": [679, 505], "nice": false}, "axis": {"orient": "left", "offset": -77, "values": [1, 10, 100, 1000, 10000, 100000], "labelExpr": "datum.value >= 10000 ? format(datum.value, ',') : format(datum.value, 'd')", "title": "CXCL8 (pg/mL)", "titleFontSize": 9.5, "labelFontSize": 9.5, "titlePadding": 8}},
            "y2": {"datum": 1},
            "color": {"field": "treat", "type": "nominal", "scale": {"domain": ["Medium", "Lugdunin", "Pam2Cys"], "range": ["#000000", "#808080", "#ffffff"]},
              "legend": {"title": null, "orient": "none", "legendX": 312, "legendY": 695, "symbolSize": 100, "labelFontSize": 10.5, "rowPadding": 6, "labelOffset": 5}}
          }
        },
        {
          "data": {"name": "fBars"},
          "mark": {"type": "tick", "color": "#000", "thickness": 1.2, "size": 7},
          "encoding": {"x": {"field": "cell", "type": "nominal"}, "xOffset": {"field": "treat", "type": "nominal"}, "y": {"field": "hi", "type": "quantitative"}}
        },
        {
          "data": {"name": "fLines"},
          "mark": {"type": "line", "color": "#000", "strokeWidth": 1},
          "encoding": {"x": {"field": "cell", "type": "nominal"}, "xOffset": {"field": "treat", "type": "nominal"}, "y": {"field": "v", "type": "quantitative"}, "detail": {"field": "id"}}
        },
        {
          "data": {"name": "fSig"},
          "transform": [{"filter": "datum.treat == 'Lugdunin'"}],
          "mark": {"type": "text", "fontSize": 7, "color": "#222", "baseline": "bottom", "dy": -2},
          "encoding": {"x": {"field": "cell", "type": "nominal"}, "xOffset": {"field": "treat", "type": "nominal"}, "y": {"field": "v", "type": "quantitative"}, "text": {"field": "sig"}}
        },
        {
          "data": {"name": "fSig"},
          "transform": [{"filter": "datum.treat == 'Medium'"}],
          "mark": {"type": "text", "fontSize": 7, "color": "#222", "baseline": "bottom", "dy": -2, "dx": 8.5},
          "encoding": {"x": {"field": "cell", "type": "nominal"}, "xOffset": {"field": "treat", "type": "nominal"}, "y": {"field": "v", "type": "quantitative"}, "text": {"field": "sig"}}
        },
        {
          "data": {"name": "fLbl"},
          "mark": {"type": "text", "fontWeight": "bold", "fontSize": 12, "dx": -102.4, "align": "left", "baseline": "alphabetic", "color": "#000"},
          "encoding": {"x": {"field": "cell", "type": "nominal"}, "y": {"field": "v", "type": "quantitative"}, "text": {"field": "label"}}
        }
      ]
    },
    {
      "layer": [
        {
          "data": {"name": "gBars"},
          "mark": {"type": "bar", "stroke": "#000", "strokeWidth": 0.8},
          "encoding": {
            "x": {"field": "cell", "type": "nominal", "scale": {"domain": ["PHKs", "HNEpCs", "HTEpCs", "PBMCs"], "range": [411, 637], "paddingInner": 0.225, "paddingOuter": 0.11}, "axis": {"orient": "bottom", "offset": -67, "labelAngle": -45, "ticks": false, "title": null, "labelFontSize": 10}},
            "xOffset": {"field": "treat", "type": "nominal", "scale": {"domain": ["Medium", "Lugdunin", "Pam2Cys"], "paddingInner": 0.33, "paddingOuter": 0}},
            "y": {"field": "v", "type": "quantitative", "scale": {"type": "log", "domain": [1, 100], "range": [681, 511], "nice": false}, "axis": {"orient": "left", "offset": -411, "values": [1, 10, 100], "labelExpr": "format(datum.value, 'd')", "title": "IL-1 (pg/mL)", "titleFontSize": 9.5, "labelFontSize": 9.5, "titlePadding": 8}},
            "y2": {"datum": 1},
            "color": {"field": "treat", "type": "nominal", "scale": {"domain": ["Medium", "Lugdunin", "Pam2Cys"], "range": ["#000000", "#808080", "#ffffff"]}, "legend": null}
          }
        },
        {
          "data": {"name": "gBars"},
          "mark": {"type": "tick", "color": "#000", "thickness": 1.2, "size": 7},
          "encoding": {"x": {"field": "cell", "type": "nominal"}, "xOffset": {"field": "treat", "type": "nominal"}, "y": {"field": "hi", "type": "quantitative"}}
        },
        {
          "data": {"name": "gLines"},
          "mark": {"type": "line", "color": "#000", "strokeWidth": 1},
          "encoding": {"x": {"field": "cell", "type": "nominal"}, "xOffset": {"field": "treat", "type": "nominal"}, "y": {"field": "v", "type": "quantitative"}, "detail": {"field": "id"}}
        },
        {
          "data": {"name": "gSig"},
          "transform": [{"filter": "datum.treat == 'Lugdunin'"}],
          "mark": {"type": "text", "fontSize": 7, "color": "#222", "baseline": "bottom", "dy": -2},
          "encoding": {"x": {"field": "cell", "type": "nominal"}, "xOffset": {"field": "treat", "type": "nominal"}, "y": {"field": "v", "type": "quantitative"}, "text": {"field": "sig"}}
        },
        {
          "data": {"name": "gSig"},
          "transform": [{"filter": "datum.treat == 'Medium'"}],
          "mark": {"type": "text", "fontSize": 7, "color": "#222", "baseline": "bottom", "dy": -2, "dx": 8},
          "encoding": {"x": {"field": "cell", "type": "nominal"}, "xOffset": {"field": "treat", "type": "nominal"}, "y": {"field": "v", "type": "quantitative"}, "text": {"field": "sig"}}
        },
        {
          "data": {"name": "gND"},
          "mark": {"type": "text", "fontSize": 9.5, "baseline": "bottom", "dy": -1, "color": "#000"},
          "encoding": {"x": {"field": "cell", "type": "nominal"}, "y": {"field": "v", "type": "quantitative"}, "text": {"field": "note"}}
        },
        {
          "data": {"name": "gLbl"},
          "mark": {"type": "text", "fontWeight": "bold", "fontSize": 12, "dx": -67, "align": "left", "baseline": "alphabetic", "color": "#000"},
          "encoding": {"x": {"field": "cell", "type": "nominal"}, "y": {"field": "v", "type": "quantitative"}, "text": {"field": "label"}}
        }
      ]
    }
  ]
}
